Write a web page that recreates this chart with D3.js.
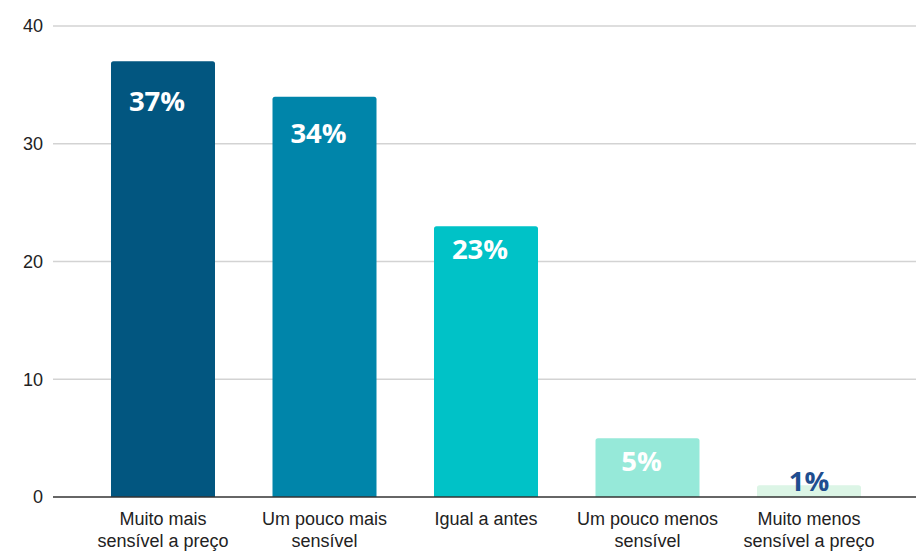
<!DOCTYPE html>
<html>
<head>
<meta charset="utf-8">
<script src="https://cdn.jsdelivr.net/npm/d3@7"></script>
<style>
  html, body { margin: 0; padding: 0; background: #fff; }
  svg { display: block; }
</style>
</head>
<body>
<svg id="chart" width="919" height="557"></svg>
<script>
// Sensibilidade a preço — distribuição das respostas (%)
const categories = [
  ["Muito mais", "sensível a preço"],
  ["Um pouco mais", "sensível"],
  ["Igual a antes"],
  ["Um pouco menos", "sensível"],
  ["Muito menos", "sensível a preço"]
];
const values = [37, 34, 23, 5, 1];
const valueLabels = ["37%", "34%", "23%", "5%", "1%"];
const yTicks = [0, 10, 20, 30, 40];
const barColors = ["#025680", "#0085aa", "#00c2c7", "#96e9d9", "#dcf5e6"];

const svg = d3.select("#chart");
const gridLeft = 53, gridRight = 916;

const y = d3.scaleLinear().domain([0, 40]).range([497, 26]);
const x = d3.scaleBand()
  .domain(d3.range(values.length))
  .range([82.25, 889.75])
  .paddingInner(0.356)
  .paddingOuter(0.178);

// Horizontal gridlines
svg.append("g")
  .selectAll("line")
  .data(yTicks.filter(t => t !== 0))
  .join("line")
  .attr("x1", gridLeft).attr("x2", gridRight)
  .attr("y1", d => y(d)).attr("y2", d => y(d))
  .attr("stroke", "#d3d3d3")
  .attr("stroke-width", 1.3);

// Y-axis tick labels
const yAxis = d3.axisLeft(y).tickValues(yTicks).tickSize(0).tickPadding(0);
const gy = svg.append("g").attr("transform", "translate(43,0)").call(yAxis);
gy.select(".domain").remove();
gy.selectAll("text")
  .attr("font-family", "'Liberation Sans', Arial, sans-serif")
  .attr("font-size", 18)
  .attr("fill", "#222");

// Bars with slightly rounded top corners
function topRoundedRect(x0, y0, w, h, r) {
  r = Math.min(r, h / 2, w / 2);
  return `M${x0},${y0 + h} V${y0 + r} Q${x0},${y0} ${x0 + r},${y0} H${x0 + w - r} Q${x0 + w},${y0} ${x0 + w},${y0 + r} V${y0 + h} Z`;
}
svg.append("g")
  .selectAll("path")
  .data(values)
  .join("path")
  .attr("d", (d, i) => topRoundedRect(x(i), y(d), x.bandwidth(), y(0) - y(d), 2.5))
  .attr("fill", (d, i) => barColors[i]);

// Baseline
svg.append("line")
  .attr("x1", gridLeft).attr("x2", gridRight)
  .attr("y1", y(0)).attr("y2", y(0))
  .attr("stroke", "#333")
  .attr("stroke-width", 1.3);

// Value labels: inside the bar when it is tall enough, otherwise resting on it
const fitsInside = v => v >= 5;
svg.append("g")
  .selectAll("text")
  .data(values)
  .join("text")
  .attr("x", (d, i) => x(i) + x.bandwidth() / 2 + (fitsInside(d) ? -6 : 0))
  .attr("y", d => fitsInside(d) ? Math.max(y(d * 0.885), y(d) + 33) : y(d) + 6)
  .attr("text-anchor", "middle")
  .attr("font-family", "'Open Sans', 'Noto Sans', sans-serif")
  .attr("font-weight", 700)
  .attr("font-size", 27.5)
  .attr("fill", d => fitsInside(d) ? "#ffffff" : "#1f4e8f")
  .text((d, i) => valueLabels[i]);

// Category labels (two lines where needed)
const xl = svg.append("g")
  .selectAll("text")
  .data(categories)
  .join("text")
  .attr("x", (d, i) => x(i) + x.bandwidth() / 2)
  .attr("y", 525)
  .attr("text-anchor", "middle")
  .attr("font-family", "'Liberation Sans', Arial, sans-serif")
  .attr("font-size", 18)
  .attr("fill", "#222");
xl.selectAll("tspan")
  .data(d => d)
  .join("tspan")
  .attr("x", function () { return d3.select(this.parentNode).attr("x"); })
  .attr("dy", (d, j) => j === 0 ? 0 : 22)
  .text(d => d);
</script>
</body>
</html>
